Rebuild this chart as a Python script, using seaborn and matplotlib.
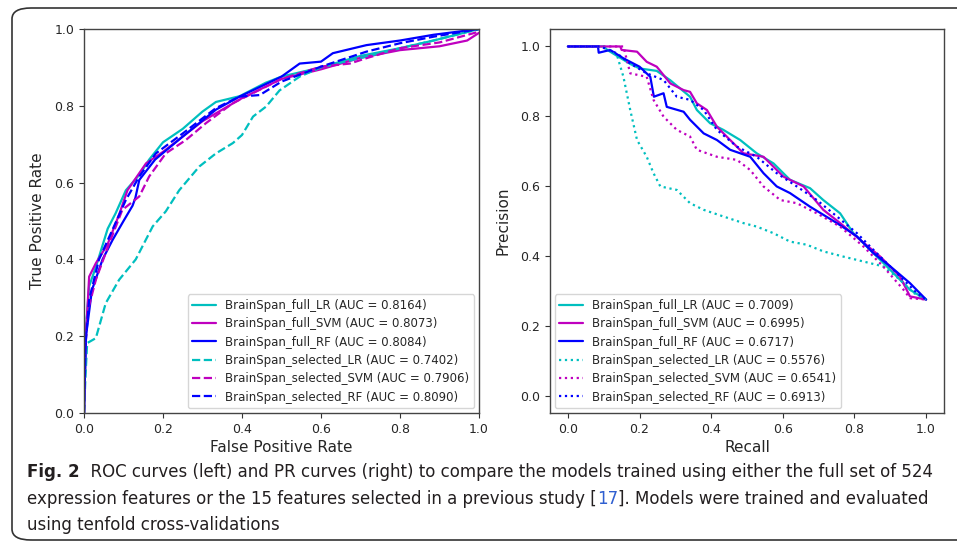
import matplotlib
matplotlib.use("Agg")
import matplotlib.pyplot as plt
from matplotlib.patches import FancyBboxPatch
import seaborn as sns
import pandas as pd

# --- ROC curves (left panel) ---
roc_full_lr_fpr = [0, 0.005, 0.013, 0.03, 0.06, 0.08, 0.106, 0.14, 0.165, 0.2, 0.25, 0.3, 0.334, 0.394, 0.46, 0.5, 0.6, 0.7, 0.8, 0.885, 1.0]
roc_full_lr_tpr = [0, 0.22, 0.33, 0.38, 0.48, 0.52, 0.58, 0.62, 0.66, 0.705, 0.74, 0.785, 0.81, 0.825, 0.86, 0.876, 0.9, 0.93, 0.95, 0.97, 1.0]

roc_full_svm_fpr = [0, 0.005, 0.013, 0.03, 0.06, 0.09, 0.11, 0.157, 0.2, 0.25, 0.3, 0.35, 0.4, 0.46, 0.5, 0.6, 0.7, 0.8, 0.9, 0.97, 1.0]
roc_full_svm_tpr = [0, 0.2, 0.355, 0.39, 0.44, 0.52, 0.58, 0.65, 0.68, 0.72, 0.76, 0.79, 0.82, 0.85, 0.87, 0.895, 0.925, 0.945, 0.955, 0.97, 0.99]

roc_full_rf_fpr = [0, 0.005, 0.02, 0.047, 0.072, 0.1, 0.123, 0.13, 0.14, 0.18, 0.25, 0.334, 0.394, 0.5, 0.546, 0.6, 0.63, 0.715, 0.8, 0.885, 1.0]
roc_full_rf_tpr = [0, 0.2, 0.32, 0.40, 0.45, 0.5, 0.54, 0.56, 0.607, 0.66, 0.72, 0.79, 0.824, 0.876, 0.91, 0.915, 0.937, 0.958, 0.97, 0.985, 1.0]

roc_sel_lr_fpr = [0, 0.004, 0.008, 0.03, 0.055, 0.089, 0.131, 0.148, 0.174, 0.207, 0.241, 0.292, 0.334, 0.377, 0.4, 0.428, 0.461, 0.495, 0.546, 0.6, 0.715, 0.8, 0.885, 1.0]
roc_sel_lr_tpr = [0, 0.1, 0.182, 0.195, 0.286, 0.347, 0.4, 0.434, 0.486, 0.525, 0.58, 0.642, 0.676, 0.703, 0.724, 0.772, 0.798, 0.84, 0.876, 0.9, 0.928, 0.95, 0.97, 1.0]

roc_sel_svm_fpr = [0, 0.003, 0.008, 0.03, 0.064, 0.097, 0.14, 0.165, 0.207, 0.258, 0.309, 0.377, 0.5, 0.6, 0.673, 0.715, 0.8, 0.9, 1.0]
roc_sel_svm_tpr = [0, 0.15, 0.26, 0.347, 0.442, 0.529, 0.564, 0.616, 0.676, 0.711, 0.755, 0.807, 0.87, 0.902, 0.91, 0.924, 0.95, 0.965, 0.993]

roc_sel_rf_fpr = [0, 0.004, 0.013, 0.038, 0.072, 0.106, 0.14, 0.182, 0.25, 0.334, 0.394, 0.445, 0.5, 0.6, 0.715, 0.8, 0.885, 1.0]
roc_sel_rf_tpr = [0, 0.18, 0.295, 0.4, 0.477, 0.555, 0.616, 0.676, 0.728, 0.794, 0.824, 0.828, 0.863, 0.902, 0.941, 0.963, 0.98, 1.0]

roc_labels = [
    "BrainSpan_full_LR (AUC = 0.8164)",
    "BrainSpan_full_SVM (AUC = 0.8073)",
    "BrainSpan_full_RF (AUC = 0.8084)",
    "BrainSpan_selected_LR (AUC = 0.7402)",
    "BrainSpan_selected_SVM (AUC = 0.7906)",
    "BrainSpan_selected_RF (AUC = 0.8090)",
]

# --- PR curves (right panel) ---
pr_full_lr_rec = [0, 0.1, 0.11, 0.174, 0.2, 0.248, 0.286, 0.341, 0.36, 0.397, 0.434, 0.481, 0.527, 0.574, 0.62, 0.676, 0.713, 0.76, 0.797, 0.853, 0.9, 0.955, 1.0]
pr_full_lr_prec = [1.0, 1.0, 0.99, 0.95, 0.937, 0.93, 0.903, 0.856, 0.818, 0.78, 0.761, 0.732, 0.694, 0.665, 0.618, 0.594, 0.56, 0.522, 0.465, 0.408, 0.36, 0.303, 0.275]

pr_full_svm_rec = [0, 0.146, 0.15, 0.193, 0.22, 0.248, 0.286, 0.323, 0.341, 0.36, 0.388, 0.416, 0.49, 0.546, 0.602, 0.658, 0.713, 0.76, 0.816, 0.872, 0.927, 0.955, 1.0]
pr_full_svm_prec = [1.0, 1.0, 0.99, 0.985, 0.956, 0.942, 0.894, 0.875, 0.87, 0.837, 0.818, 0.77, 0.694, 0.684, 0.627, 0.599, 0.532, 0.494, 0.446, 0.398, 0.341, 0.284, 0.275]

pr_full_rf_rec = [0, 0.084, 0.086, 0.118, 0.155, 0.2, 0.23, 0.24, 0.267, 0.276, 0.323, 0.341, 0.379, 0.416, 0.453, 0.509, 0.546, 0.583, 0.62, 0.676, 0.751, 0.807, 0.853, 0.9, 0.955, 1.0]
pr_full_rf_prec = [1.0, 1.0, 0.982, 0.99, 0.966, 0.942, 0.913, 0.856, 0.866, 0.827, 0.813, 0.79, 0.751, 0.732, 0.704, 0.684, 0.637, 0.599, 0.58, 0.541, 0.494, 0.456, 0.408, 0.37, 0.322, 0.275]

pr_sel_lr_rec = [0, 0.1, 0.137, 0.155, 0.174, 0.193, 0.22, 0.239, 0.258, 0.304, 0.341, 0.379, 0.434, 0.49, 0.527, 0.574, 0.62, 0.667, 0.713, 0.769, 0.825, 0.88, 0.927, 0.965, 1.0]
pr_sel_lr_prec = [1.0, 1.0, 0.975, 0.913, 0.818, 0.732, 0.684, 0.637, 0.599, 0.589, 0.551, 0.532, 0.513, 0.494, 0.484, 0.465, 0.441, 0.432, 0.413, 0.398, 0.384, 0.37, 0.332, 0.294, 0.275]

pr_sel_svm_rec = [0, 0.155, 0.174, 0.22, 0.239, 0.267, 0.304, 0.341, 0.36, 0.416, 0.472, 0.509, 0.546, 0.593, 0.639, 0.695, 0.76, 0.825, 0.88, 0.937, 0.955, 1.0]
pr_sel_svm_prec = [1.0, 1.0, 0.923, 0.913, 0.847, 0.799, 0.761, 0.742, 0.704, 0.684, 0.675, 0.646, 0.599, 0.56, 0.551, 0.522, 0.484, 0.427, 0.37, 0.303, 0.279, 0.275]

pr_sel_rf_rec = [0, 0.09, 0.137, 0.174, 0.22, 0.267, 0.304, 0.341, 0.379, 0.416, 0.472, 0.527, 0.583, 0.639, 0.695, 0.751, 0.807, 0.862, 0.918, 0.974, 1.0]
pr_sel_rf_prec = [1.0, 1.0, 0.98, 0.951, 0.923, 0.904, 0.856, 0.847, 0.818, 0.761, 0.713, 0.684, 0.637, 0.599, 0.56, 0.513, 0.465, 0.408, 0.351, 0.294, 0.275]

pr_labels = [
    "BrainSpan_full_LR (AUC = 0.7009)",
    "BrainSpan_full_SVM (AUC = 0.6995)",
    "BrainSpan_full_RF (AUC = 0.6717)",
    "BrainSpan_selected_LR (AUC = 0.5576)",
    "BrainSpan_selected_SVM (AUC = 0.6541)",
    "BrainSpan_selected_RF (AUC = 0.6913)",
]

colors = ["c", "m", "b", "c", "m", "b"]
ticks = [0.0, 0.2, 0.4, 0.6, 0.8, 1.0]

sns.set_style("ticks")
plt.rcParams["font.family"] = ["DejaVu Sans"]

fig = plt.figure(figsize=(9.57, 5.44), dpi=100)
W, H = 957, 544


def px_axes(x0, y0, x1, y1):
    return fig.add_axes([x0 / W, 1 - y1 / H, (x1 - x0) / W, (y1 - y0) / H])


def draw_panel(ax, curves, labels, sel_style):
    for i, (xs, ys) in enumerate(curves):
        df = pd.DataFrame({"x": xs, "y": ys})
        ls = "-" if i < 3 else sel_style
        sns.lineplot(data=df, x="x", y="y", ax=ax, color=colors[i], linestyle=ls,
                     linewidth=1.6, sort=False, estimator=None, label=labels[i])
    ax.set_xticks(ticks)
    ax.set_yticks(ticks)
    ax.tick_params(labelsize=9, length=3.5, width=0.8, color="#333333")
    for s in ax.spines.values():
        s.set_visible(True)
        s.set_color("#444444")
        s.set_linewidth(1.0)


# left: ROC
ax1 = px_axes(84, 29, 479, 413)
roc_curves = [
    (roc_full_lr_fpr, roc_full_lr_tpr),
    (roc_full_svm_fpr, roc_full_svm_tpr),
    (roc_full_rf_fpr, roc_full_rf_tpr),
    (roc_sel_lr_fpr, roc_sel_lr_tpr),
    (roc_sel_svm_fpr, roc_sel_svm_tpr),
    (roc_sel_rf_fpr, roc_sel_rf_tpr),
]
draw_panel(ax1, roc_curves, roc_labels, "--")
ax1.set_xlim(0, 1)
ax1.set_ylim(0, 1)
ax1.set_xlabel("False Positive Rate", fontsize=11, labelpad=3)
ax1.set_ylabel("True Positive Rate", fontsize=11, labelpad=7)
ax1.legend(loc="lower right", fontsize=8.5, borderaxespad=0.4, handlelength=2.0,
           labelspacing=0.45, edgecolor="#cccccc")

# right: PR
ax2 = px_axes(550, 29, 944, 413)
pr_curves = [
    (pr_full_lr_rec, pr_full_lr_prec),
    (pr_full_svm_rec, pr_full_svm_prec),
    (pr_full_rf_rec, pr_full_rf_prec),
    (pr_sel_lr_rec, pr_sel_lr_prec),
    (pr_sel_svm_rec, pr_sel_svm_prec),
    (pr_sel_rf_rec, pr_sel_rf_prec),
]
draw_panel(ax2, pr_curves, pr_labels, ":")
ax2.set_xlim(-0.05, 1.05)
ax2.set_ylim(-0.05, 1.05)
ax2.set_xlabel("Recall", fontsize=11, labelpad=3)
ax2.set_ylabel("Precision", fontsize=11, labelpad=7)
ax2.legend(loc="lower left", fontsize=8.5, borderaxespad=0.4, handlelength=2.0,
           labelspacing=0.45, edgecolor="#cccccc")

# rounded frame around the figure panel
frame = FancyBboxPatch((12 / W, 1 - 540 / H), 980 / W, 532 / H,
                       boxstyle="round,pad=0,rounding_size=0.02",
                       transform=fig.transFigure, fill=False,
                       edgecolor="#333333", linewidth=1.2, clip_on=False)
fig.patches.append(frame)

# caption, placed piece by piece
cap_font = ["DejaVu Sans"]
cap_color = "#231f20"
fig.canvas.draw()
renderer = fig.canvas.get_renderer()


def caption_line(pieces, x_px, base_px):
    x = x_px
    for txt, kw in pieces:
        t = fig.text(x / W, 1 - base_px / H, txt, fontsize=12, family=cap_font,
                     color=kw.get("color", cap_color), fontweight=kw.get("weight", "normal"),
                     va="baseline", ha="left")
        bb = t.get_window_extent(renderer=renderer)
        x += bb.width


caption_line([("Fig. 2", {"weight": "bold"}),
              ("  ROC curves (left) and PR curves (right) to compare the models trained using either the full set of 524", {})],
             27, 477)
caption_line([("expression features or the 15 features selected in a previous study [", {}),
              ("17", {"color": "#2f5fd0"}),
              ("]. Models were trained and evaluated", {})],
             27, 504)
caption_line([("using tenfold cross-validations", {})], 27, 530)

fig.savefig("out.png", dpi=100)
